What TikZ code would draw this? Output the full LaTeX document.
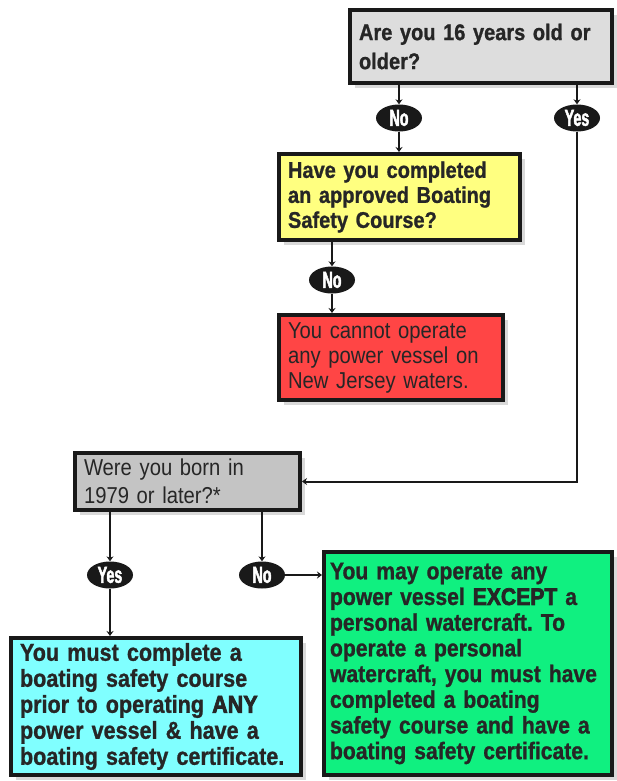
\documentclass[tikz,border=0pt]{standalone}
\usepackage{fontspec}
\setmainfont[FakeStretch=0.88,BoldFeatures={FakeBold=1}]{Liberation Sans}
\newfontfamily\heavyfont[FakeStretch=0.88,BoldFeatures={FakeBold=3}]{Liberation Sans}
\newfontfamily\badgefont[FakeStretch=0.62,BoldFeatures={FakeBold=2}]{Liberation Sans}
\usetikzlibrary{arrows.meta,shapes.geometric,shadows}
\frenchspacing

\definecolor{ageGray}{HTML}{DDDDDD}
\definecolor{courseYellow}{HTML}{FFFF80}
\definecolor{stopRed}{HTML}{FF4545}
\definecolor{bornGray}{HTML}{C4C4C4}
\definecolor{mustCyan}{HTML}{80FFFF}
\definecolor{mayGreen}{HTML}{10F080}

\begin{document}
\begin{tikzpicture}[x=1pt, y=-1pt,
		box/.style={rectangle, draw=black!90, line width=4pt, inner xsep=9pt, inner ysep=2pt, align=left, text=black!85,
			drop shadow={shadow xshift=5pt, shadow yshift=-5pt, fill=black!15, opacity=1}},
		badge/.style={ellipse, fill=black!90, minimum width=46pt, minimum height=27pt, inner sep=0pt, text=white,
			font={\badgefont\bfseries\fontsize{23}{23}\selectfont}},
		link/.style={line width=2.8pt, draw=black!90, -{Stealth[length=5pt,width=7pt]}}]
		\useasboundingbox (0,0) rectangle (617,781);

		\node[box, fill=ageGray, text width=244pt, minimum height=73pt, font=\bfseries\fontsize{22.75}{29}\selectfont] (qAge) at (481,46.5) {Are you 16 years old or\\older?};
		\node[box, fill=courseYellow, text width=223pt, minimum height=86pt, font=\bfseries\fontsize{22.75}{25}\selectfont] (qCourse) at (399.5,197) {Have you completed\\an approved Boating\\Safety Course?};
		\node[box, fill=stopRed, text width=206pt, minimum height=85pt, font=\fontsize{23}{25}\selectfont] (noOperate) at (391,357.5) {You cannot operate\\any power vessel on\\New Jersey waters.};
		\node[box, fill=bornGray, text width=207pt, minimum height=57pt, font=\fontsize{23}{28}\selectfont] (qBorn) at (187.5,481.5) {Were you born in\\1979 or later?*};
		\node[box, fill=mustCyan, text width=272pt, minimum height=137pt, font=\bfseries\fontsize{24.5}{26}\selectfont] (mustCourse) at (156,706.5) {You must complete a\\boating safety course\\prior to operating {\heavyfont\bfseries ANY}\\power vessel \& have a\\boating safety certificate.};
		\node[box, fill=mayGreen, inner xsep=6pt, text width=276pt, minimum height=223pt, font=\bfseries\fontsize{24}{25.7}\selectfont] (mayOperate) at (468,663.5) {You may operate any\\power vessel {\heavyfont\bfseries EXCEPT} a\\personal watercraft. To\\operate a personal\\watercraft, you must have\\completed a boating\\safety course and have a\\boating safety certificate.};

		\node[badge] (noAge) at (399,118) {No};
		\node[badge] (yesAge) at (577,118) {Yes};
		\node[badge] (noCourse) at (332,280) {No};
		\node[badge] (yesBorn) at (110,575) {Yes};
		\node[badge] (noBorn) at (262,575) {No};

		\draw[link] (qAge.south -| noAge) -- (noAge);
		\draw[link] (noAge) -- (noAge |- qCourse.north);
		\draw[link] (qAge.south -| yesAge) -- (yesAge);
		\draw[link, line width=2pt] (yesAge) |- (qBorn.east);

		\draw[link] (qCourse.south -| noCourse) -- (noCourse);
		\draw[link] (noCourse) -- (noCourse |- noOperate.north);

		\draw[link] (qBorn.south -| yesBorn) -- (yesBorn);
		\draw[link] (yesBorn) -- (yesBorn |- mustCourse.north);
		\draw[link] (qBorn.south -| noBorn) -- (noBorn);
		\draw[link] (noBorn) -- (noBorn -| mayOperate.west);
	\end{tikzpicture}
\end{document}
